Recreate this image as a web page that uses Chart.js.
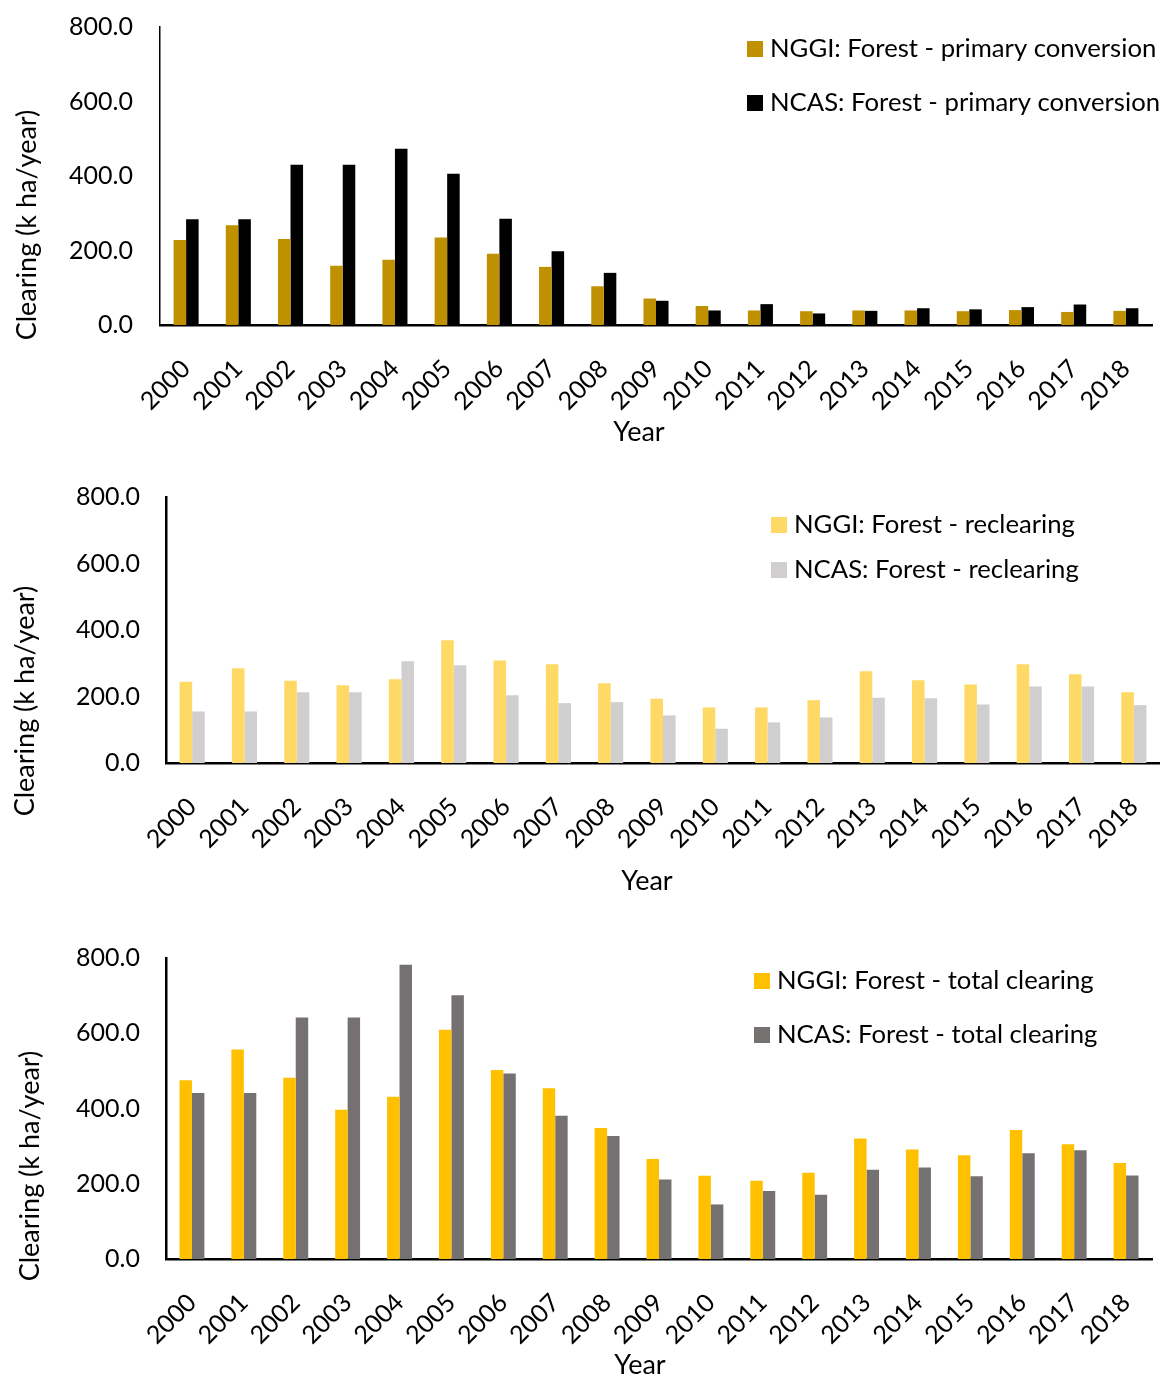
<!DOCTYPE html>
<html>
<head>
<meta charset="utf-8">
<script src="https://cdn.jsdelivr.net/npm/chart.js@4.4.0/dist/chart.umd.min.js"></script>
<style>
  html, body { margin: 0; padding: 0; background: #ffffff; }
  #wrap { position: relative; width: 1160px; height: 1375px; }
  canvas { position: absolute; left: 0; }
</style>
</head>
<body>
<div id="wrap">
  <canvas id="c1" width="1160" height="455" style="top:0px"></canvas>
  <canvas id="c2" width="1160" height="450" style="top:455px"></canvas>
  <canvas id="c3" width="1160" height="470" style="top:905px"></canvas>
</div>
<script>
// Clearing in k ha/year, 2000-2018
const years = ['2000','2001','2002','2003','2004','2005','2006','2007','2008','2009',
               '2010','2011','2012','2013','2014','2015','2016','2017','2018'];

const nggiPrimary = [228, 268, 231, 159, 175, 235, 191, 156, 104, 71, 51, 39, 37, 39, 39, 37, 40, 35, 38];
const ncasPrimary = [284, 284, 430, 430, 473, 406, 285, 198, 140, 65, 39, 56, 31, 38, 45, 42, 48, 55, 45];

const nggiReclear = [244, 285, 247, 234, 252, 369, 308, 297, 240, 193, 167, 167, 189, 276, 249, 236, 297, 267, 213];
const ncasReclear = [155, 155, 213, 213, 306, 294, 204, 180, 183, 143, 103, 122, 137, 196, 195, 176, 230, 230, 174];

const nggiTotal = [475, 557, 482, 397, 431, 609, 502, 454, 348, 266, 221, 208, 229, 320, 291, 276, 343, 305, 255];
const ncasTotal = [441, 441, 642, 642, 782, 701, 493, 381, 327, 211, 145, 181, 171, 237, 243, 220, 281, 289, 222];

const yTicks = [0, 200, 400, 600, 800];
const yTitle = 'Clearing (k ha/year)';
const xTitle = 'Year';

const FONT = 'Lato';

// Legend entries and axis titles placed inside each panel
const frameText = {
  id: 'frameText',
  afterDraw(chart, args, opts) {
    const ctx = chart.ctx;
    ctx.save();
    ctx.font = opts.size + 'px ' + FONT;
    ctx.textBaseline = 'middle';
    ctx.textAlign = 'left';
    chart.data.datasets.forEach((ds, i) => {
      const y = opts.legendY + i * opts.legendGap;
      ctx.fillStyle = ds.backgroundColor;
      ctx.fillRect(opts.legendX, y - 8, 16, 16);
      ctx.fillStyle = '#000000';
      ctx.fillText(ds.label, opts.legendX + 23, y);
    });
    ctx.font = opts.titleSize + 'px ' + FONT;
    ctx.textAlign = 'center';
    ctx.fillText(xTitle, opts.xTitleX, opts.xTitleY);
    ctx.translate(opts.yTitleX, opts.yTitleY);
    ctx.rotate(-Math.PI / 2);
    ctx.fillText(yTitle, 0, 0);
    ctx.restore();
  }
};

function makeChart(id, nggi, ncas, names, colors, geo) {
  const canvas = document.getElementById(id);
  return new Chart(canvas, {
    type: 'bar',
    data: {
      labels: years,
      datasets: [
        { label: names[0], data: nggi, backgroundColor: colors[0], borderWidth: 0 },
        { label: names[1], data: ncas, backgroundColor: colors[1], borderWidth: 0 }
      ]
    },
    options: {
      responsive: false,
      animation: false,
      devicePixelRatio: 1,
      datasets: { bar: { categoryPercentage: 0.48, barPercentage: 1 } },
      layout: { padding: { top: geo.top, right: geo.right, left: 0, bottom: 0 } },
      plugins: {
        legend: { display: false },
        tooltip: { enabled: false },
        frameText: geo.text
      },
      scales: {
        x: {
          grid: { display: false, drawTicks: false },
          border: { display: true, color: '#000000', width: 2.5 },
          ticks: {
            color: '#000000', font: { family: FONT, size: 25 },
            maxRotation: 45, minRotation: 45, padding: 29, autoSkip: false
          },
          afterFit(s) {
            s.height = canvas.height - geo.bottom;
            s.paddingLeft = 0;
            s.paddingRight = 0;
          }
        },
        y: {
          min: 0, max: 800,
          grid: { display: false, drawTicks: false },
          border: { display: true, color: '#000000', width: geo.yBorder },
          afterBuildTicks(s) { s.ticks = yTicks.map(v => ({ value: v })); },
          ticks: {
            color: '#000000', font: { family: FONT, size: 25 }, padding: geo.tickPad,
            callback: v => Number(v).toFixed(1)
          },
          afterFit(s) {
            s.width = geo.left;
            s.paddingTop = 0;
            s.paddingBottom = 0;
          }
        }
      }
    },
    plugins: [frameText]
  });
}

makeChart('c1', nggiPrimary, ncasPrimary,
  ['NGGI: Forest - primary conversion', 'NCAS: Forest - primary conversion'],
  ['#BF9000', '#000000'],
  { left: 160, right: 8, top: 27, bottom: 325, yBorder: 1.5, tickPad: 27,
    text: { size: 25.7, titleSize: 27, legendX: 747, legendY: 49, legendGap: 54,
            xTitleX: 639, xTitleY: 432, yTitleX: 27, yTitleY: 225 } });

makeChart('c2', nggiReclear, ncasReclear,
  ['NGGI: Forest - reclearing', 'NCAS: Forest - reclearing'],
  ['#FFD966', '#D0CECE'],
  { left: 166, right: 0, top: 42, bottom: 308, yBorder: 2.5, tickPad: 26,
    text: { size: 25.7, titleSize: 27, legendX: 771, legendY: 70, legendGap: 45,
            xTitleX: 647, xTitleY: 426, yTitleX: 25, yTitleY: 246 } });

makeChart('c3', nggiTotal, ncasTotal,
  ['NGGI: Forest - total clearing', 'NCAS: Forest - total clearing'],
  ['#FFC000', '#767171'],
  { left: 166, right: 8, top: 53, bottom: 354, yBorder: 2.5, tickPad: 26,
    text: { size: 25.7, titleSize: 27, legendX: 754, legendY: 76, legendGap: 54,
            xTitleX: 640, xTitleY: 460, yTitleX: 30, yTitleY: 261 } });
</script>
</body>
</html>
